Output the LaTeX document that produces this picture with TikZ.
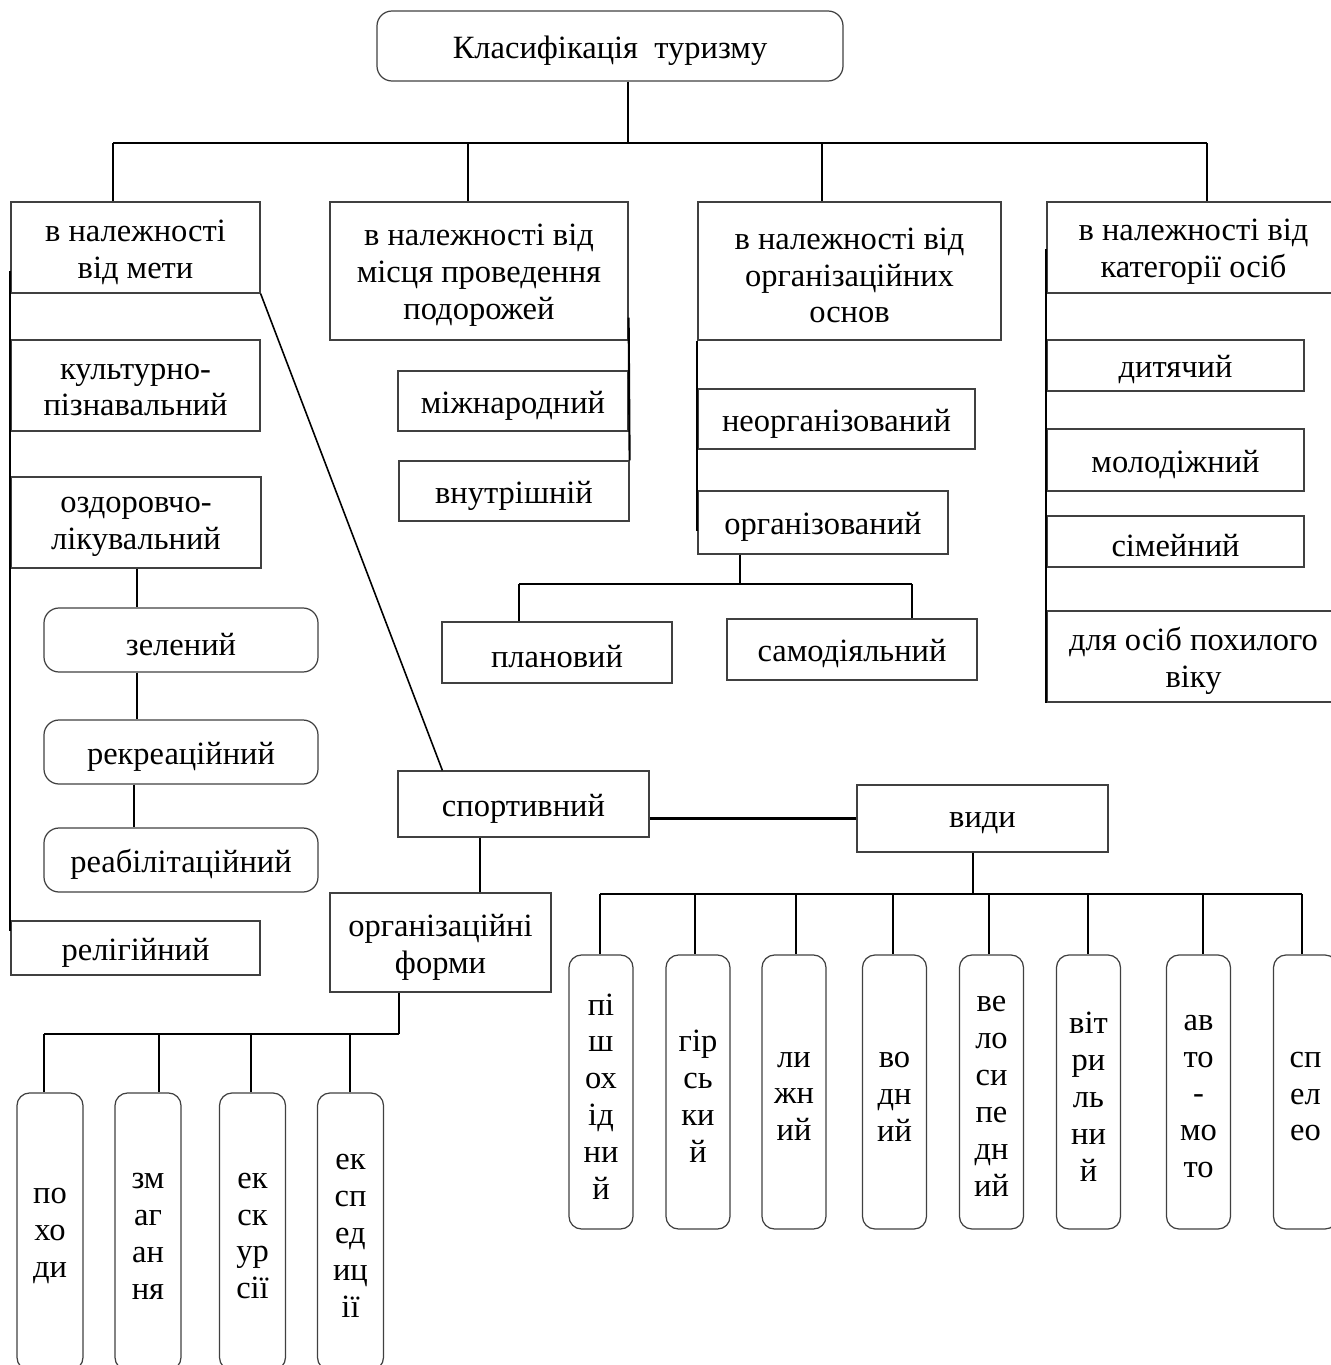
\documentclass[tikz,border=0pt]{standalone}
\usepackage{fontspec}
\setmainfont{Liberation Serif}
\usetikzlibrary{calc}
\newcommand\fsz{\fontsize{18.5}{21}\selectfont}
\tikzset{
  wh/.style 2 args={minimum width=#1*0.02cm, minimum height=#2*0.02cm},
  box/.style={draw=black!75, line width=0.7pt, rectangle, inner sep=0pt},
  rbox/.style={box, rounded corners=0.3cm},
  vbox/.style={box, rounded corners=0.25cm},
  txt/.style={inner sep=0pt, align=center, font=\fsz},
  conn/.style={line width=1.2pt},
  thinconn/.style={line width=0.8pt},
  bus/.style={line width=1.6pt},
}
% #1 style, #2 name, #3 centre, #4 width, #5 height, #6 text
\newcommand\bx[6][box]{%
  \node[#1, wh={#4}{#5}] (#2) at (#3) {};
  \node[txt] (#2-t) at ([yshift=-0.09cm]#2.center) {#6};}
\begin{document}
\begin{tikzpicture}[x=0.02cm, y=-0.02cm]
\useasboundingbox (0,0) rectangle (1331,1365);
\clip (0,0) rectangle (1331,1365);

% top
\bx[rbox]{top}{610,46}{466}{70}{Класифікація~~туризму}

% level 2
\bx{b1}{135.5,247.5}{249}{91}{в належності\\від мети}
\bx{b2}{479,271}{298}{138}{в належності від\\місця проведення\\подорожей}
\bx{b3}{849.5,271}{303}{138}{в належності від\\організаційних\\основ}
\bx{b4}{1193.5,247.5}{293}{91}{в належності від\\категорії осіб}

% column 1
\bx{kult}{135.5,385.5}{249}{91}{культурно-\\пізнавальний}
\bx{ozd}{136,522.5}{250}{91}{оздоровчо-\\лікувальний}
\bx[rbox]{zel}{181,640}{274}{64}{зелений}
\bx[rbox]{rek}{181,752}{274}{64}{рекреаційний}
\bx[rbox]{reab}{181,860}{274}{64}{реабілітаційний}
\bx{rel}{135.5,948}{249}{54}{релігійний}

% column 2
\bx{mizh}{513,401}{230}{60}{міжнародний}
\bx{vn}{514,491}{230}{60}{внутрішній}

% column 3
\bx{neorg}{836.5,419}{277}{60}{неорганізований}
\bx{org}{823,522.5}{250}{63}{організований}
\bx{plan}{557,652.5}{230}{61}{плановий}
\bx{samod}{852,649.5}{250}{61}{самодіяльний}

% column 4
\bx{dyt}{1175.5,365.5}{257}{51}{дитячий}
\bx{mol}{1175.5,460}{257}{62}{молодіжний}
\bx{sim}{1175.5,541.5}{257}{51}{сімейний}
\bx{pohyl}{1193.5,656.5}{293}{91}{для осіб похилого\\віку}

% sport
\bx{sport}{523.5,804}{251}{66}{спортивний}
\bx{vydy}{982.5,818.5}{251}{67}{види}
\bx{orgf}{440.5,942.5}{221}{99}{організаційні\\форми}

% kinds
\bx[vbox]{v1}{601,1092}{64}{274}{пі\\ш\\ох\\ід\\ни\\й}
\bx[vbox]{v2}{698,1092}{64}{274}{гір\\сь\\ки\\й}
\bx[vbox]{v3}{794,1092}{64}{274}{ли\\жн\\ий}
\bx[vbox]{v4}{894.5,1092}{64}{274}{во\\дн\\ий}
\bx[vbox]{v5}{991.5,1092}{64}{274}{ве\\ло\\си\\пе\\дн\\ий}
\bx[vbox]{v6}{1088.5,1092}{64}{274}{віт\\ри\\ль\\ни\\й}
\bx[vbox]{v7}{1198.5,1092}{64}{274}{ав\\то\\-\\мо\\то}
\bx[vbox]{v8}{1305.5,1092}{64}{274}{сп\\ел\\ео}

% forms
\bx[vbox]{p1}{50,1231.5}{66}{277}{по\\хо\\ди}
\bx[vbox]{p2}{148,1231.5}{66}{277}{зм\\аг\\ан\\ня}
\bx[vbox]{p3}{252.5,1231.5}{66}{277}{ек\\ск\\ур\\сії}
\bx[vbox]{p4}{350.5,1231.5}{66}{277}{ек\\сп\\ед\\иц\\ії}

% connectors: top
\coordinate (j0) at (628,143);
\coordinate (busL) at (113,143);
\coordinate (busR) at (1207,143);
\coordinate (k2) at (468,143);
\coordinate (k3) at (822,143);
\draw[conn] (top.south -| j0) -- (j0);
\draw[bus] (busL) -- (busR);
\draw[conn] (busL) -- (b1.north -| busL);
\draw[conn] (k2) -- (b2.north -| k2);
\draw[conn] (k3) -- (b3.north -| k3);
\draw[conn] (busR) -- (b4.north -| busR);

% side rails
\draw[conn] ([yshift=0.46cm]b1.south west) -- ([yshift=-0.22cm]rel.north west);
\draw[conn] ([yshift=0.46cm]b2.south east) -- (vn.north east);
\draw[conn] (b3.south west) -- ([yshift=-0.82cm]org.north west);
\draw[conn] ([yshift=0.9cm]b4.south west) -- (pohyl.south west);

% diagonal
\draw[thinconn, line width=0.9pt] (b1.south east) -- ([xshift=0.9cm]sport.north west);

% health chain
\coordinate (cx) at (137,0);
\coordinate (cx2) at (134,0);
\draw[thinconn] (ozd.south -| cx) -- (zel.north -| cx);
\draw[thinconn] (zel.south -| cx) -- (rek.north -| cx);
\draw[thinconn] (rek.south -| cx2) -- (reab.north -| cx2);

% sport - vydy
\draw[conn] (sport.east |- vydy.west) -- (vydy.west);
\coordinate (vb) at (973,894);
\coordinate (vbL) at (600,894);
\coordinate (vbR) at (1302,894);
\draw[conn] (vydy.south -| vb) -- (vb);
\draw[bus] (vbL) -- (vbR);
\foreach \n/\xx in {v1/600,v2/695,v3/796,v4/893,v5/989,v6/1088,v7/1203,v8/1302}{
  \draw[conn] (\xx,894) -- (\n.north -| \xx,0);
}

% sport - forms
\coordinate (sx) at (480,0);
\draw[thinconn] (sport.south -| sx) -- (orgf.north -| sx);
\coordinate (ob) at (399,1034);
\coordinate (obL) at (44,1034);
\draw[conn] (orgf.south -| ob) -- (ob);
\draw[bus] (obL) -- (ob);
\foreach \n/\xx in {p1/44,p2/159,p3/251,p4/350}{
  \draw[conn] (\xx,1034) -- (\n.north -| \xx,0);
}

% organized
\coordinate (gb) at (740,584);
\coordinate (gbL) at (519,584);
\coordinate (gbR) at (912,584);
\draw[conn] (org.south -| gb) -- (gb);
\draw[bus] (gbL) -- (gbR);
\draw[conn] (gbL) -- (plan.north -| gbL);
\draw[conn] (gbR) -- (samod.north -| gbR);
\end{tikzpicture}
\end{document}
